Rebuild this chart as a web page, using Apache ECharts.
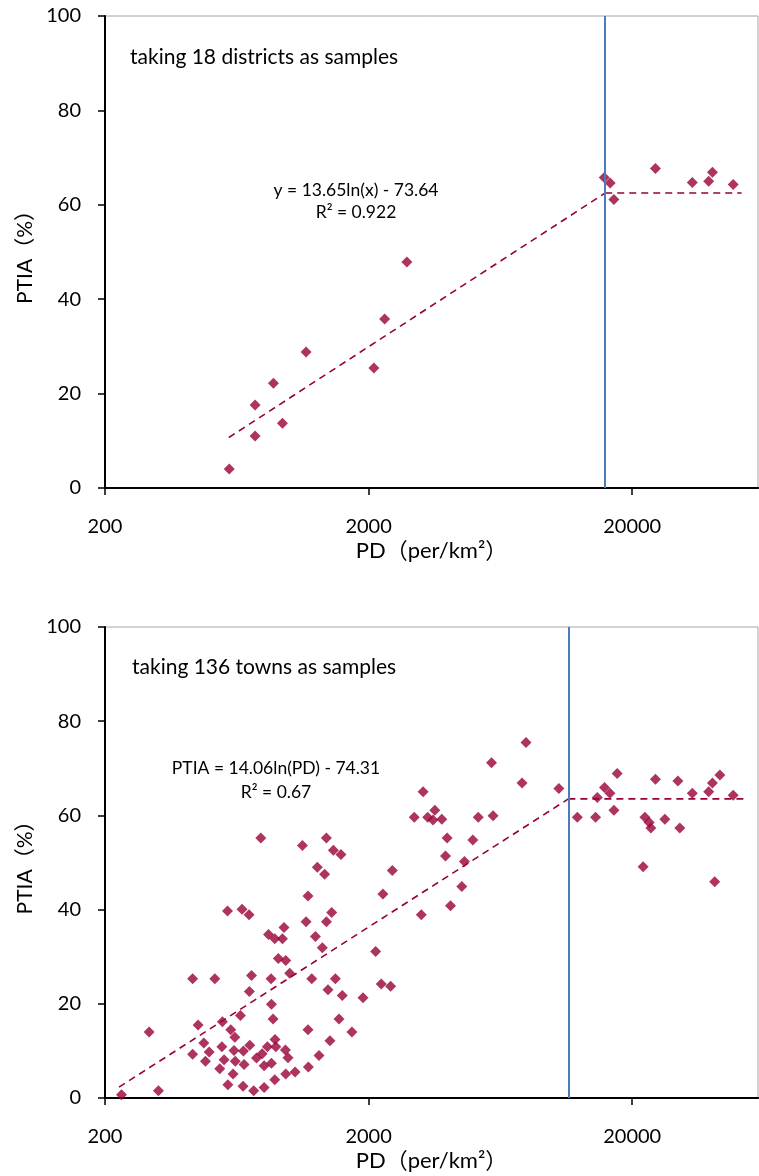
<!DOCTYPE html>
<html><head><meta charset="utf-8">
<script src="https://cdn.jsdelivr.net/npm/echarts@6/dist/echarts.min.js"></script>
<style>html,body{margin:0;padding:0;background:#fff}#c{width:759px;height:1176px}</style>
</head><body><div id="c"></div>
<script>
// ---- tick labels ----
const xTickValues = [200, 2000, 20000];
const yTickValues = [0, 20, 40, 60, 80, 100];

// ---- panel 1: 18 districts ----
const districtPD   = [592, 742, 742, 871, 942, 1158, 2094, 2300, 2794, 15660, 16500, 17040, 24500, 33800, 39000, 40300, 48300];
const districtPTIA = [4.0, 17.6, 11.0, 22.2, 13.7, 28.8, 25.4, 35.8, 47.9, 65.8, 64.6, 61.1, 67.7, 64.7, 65.0, 66.9, 64.3];
const districtTrendPD   = [590, 15800];
const districtTrendPTIA = [10.7, 62.5];
const districtFlatPD    = [15800, 52000];
const districtFlatPTIA  = [62.5, 62.5];
const districtThreshold = 15800;

// ---- panel 2: 136 towns ----
const townPD = [
  780, 1122, 1383, 1470, 1571, 1278, 1362,
  7910, 5850, 7640, 10540, 3220, 2980, 3350, 3565, 3510, 3790, 5210, 5930, 3970, 4970, 3915, 4620, 2460, 4515,
  41100, 22000, 12380, 14520, 14740, 15700, 16460, 17050, 17540, 22340, 23540, 24500, 26600, 29800, 30300,
  33800, 39000, 40300, 43000, 48300, 23200,
  231, 319, 294, 430, 522, 430, 451, 474, 481, 497, 545, 558, 555, 566, 583, 585, 600, 612, 622, 617,
  624, 653, 662, 670, 674, 668, 704, 708, 706, 719, 733, 751, 789, 803, 803, 834, 853, 856, 856, 868,
  881, 881, 883, 889, 826, 909, 942, 955, 970, 967, 989, 970, 1004, 1052, 1158, 1178, 1178, 1182, 1217, 1257,
  1297, 1335, 1384, 1403, 1427, 1449, 1496, 1544, 1589, 1729, 1904, 2126,
  2266, 2233, 2424, 3170, 4090
];
const townPTIA = [
  55.2, 53.6, 55.2, 52.6, 51.7, 49.0, 47.5,
  75.5, 71.2, 66.9, 65.7, 65.0, 59.6, 59.6, 61.1, 59.0, 59.2, 59.6, 59.9, 55.2, 54.8, 51.4, 50.2, 48.3, 44.9,
  45.9, 49.1, 59.6, 59.6, 63.8, 65.9, 64.7, 61.1, 68.9, 59.6, 57.3, 67.7, 59.2, 67.3, 57.3,
  64.7, 65.0, 66.9, 68.6, 64.3, 58.5,
  0.7, 1.55, 14.0, 25.3, 25.3, 9.3, 15.5, 11.7, 7.8, 9.75, 6.2, 16.2, 10.9, 8.1, 39.7, 2.8, 14.5, 5.1, 12.9, 10.1,
  7.8, 17.5, 40.1, 10.0, 7.1, 2.5, 38.9, 11.2, 22.6, 26.0, 1.55, 8.5, 9.4, 6.85, 2.25, 34.7, 25.3, 19.9, 7.4, 16.75,
  33.8, 3.9, 12.4, 10.9, 10.9, 29.6, 33.8, 36.2, 29.2, 10.2, 8.55, 5.1, 26.5, 5.5, 37.4, 42.9, 14.5, 6.6, 25.3, 34.3,
  9.0, 31.9, 37.4, 23.0, 12.15, 39.4, 25.3, 16.75, 21.75, 14.0, 21.3, 31.1,
  43.3, 24.2, 23.7, 38.9, 40.8
];
const townTrendPD   = [226, 11450];
const townTrendPTIA = [2.3, 63.5];
const townFlatPD    = [11450, 53000];
const townFlatPTIA  = [63.5, 63.5];
const townThreshold = 11450;

// ---- texts ----
const panelTexts = ['taking 18 districts as samples', 'taking 136 towns as samples'];
const eqTexts = ['y = 13.65ln(x) - 73.64', 'PTIA = 14.06ln(PD) - 74.31'];
const r2Texts = ['R\u00b2 = 0.922', 'R\u00b2 = 0.67'];
const xName = 'PD\uff08per/km\u00b2\uff09';
const yName = 'PTIA\uff08%\uff09';

const FONT = 'Lato, "Noto Sans CJK SC", sans-serif';
const MARK = '#99003a';
const BLUE = '#4a7ebb';

const zip = (a, b) => a.map((v, i) => [v, b[i]]);

function xAxisFor(g) {
  return {
    type: 'log', logBase: 10, gridIndex: g, min: 200, max: 60000,
    name: xName, nameLocation: 'middle', nameGap: 52,
    nameTextStyle: { fontFamily: FONT, fontSize: 22, color: '#000' },
    axisLine: { show: true, onZero: false, lineStyle: { color: '#000', width: 2 } },
    axisTick: { show: true, inside: false, length: 7, lineStyle: { color: '#000', width: 1.5 }, customValues: xTickValues },
    axisLabel: { show: true, margin: 29, fontFamily: FONT, fontSize: 20, color: '#000', customValues: xTickValues,
                 formatter: v => String(Math.round(v)) },
    minorTick: { show: false }, splitLine: { show: false }, minorSplitLine: { show: false }
  };
}
function topBorderAxis(g) {
  return {
    type: 'value', gridIndex: g, position: 'top', min: 0, max: 1,
    axisLine: { show: true, lineStyle: { color: '#000', width: 1.5 } },
    axisTick: { show: false }, axisLabel: { show: false }, splitLine: { show: false }
  };
}
function yAxisFor(g) {
  return {
    type: 'value', gridIndex: g, min: yTickValues[0], max: yTickValues[yTickValues.length - 1], interval: 20,
    name: yName, nameLocation: 'middle', nameGap: 68, nameRotate: 90,
    nameTextStyle: { fontFamily: FONT, fontSize: 21, color: '#000' },
    axisLine: { show: true, lineStyle: { color: '#000', width: 2 } },
    axisTick: { show: true, inside: false, length: 7, lineStyle: { color: '#000', width: 1.5 } },
    axisLabel: { margin: 24, align: 'right', fontFamily: FONT, fontSize: 20, color: '#000' },
    splitLine: { show: false }
  };
}
function seriesFor(g, pd, ptia, tPD, tPTIA, fPD, fPTIA, thr) {
  const dash = { color: MARK, width: 1.6, type: [7, 5] };
  return [
    { type: 'line', xAxisIndex: g, yAxisIndex: g, data: zip(tPD, tPTIA), showSymbol: false, symbol: 'none',
      lineStyle: dash, z: 3,
      markLine: { silent: true, symbol: ['none', 'none'], label: { show: false },
                  lineStyle: { color: BLUE, width: 2, type: 'solid' }, data: [{ xAxis: thr }] } },
    { type: 'line', xAxisIndex: g, yAxisIndex: g, data: zip(fPD, fPTIA), showSymbol: false, symbol: 'none',
      lineStyle: dash, z: 3 },
    { type: 'scatter', xAxisIndex: g, yAxisIndex: g, data: zip(pd, ptia), symbol: 'diamond', symbolSize: 11,
      itemStyle: { color: MARK }, z: 4 }
  ];
}

const chart = echarts.init(document.getElementById('c'), null, { renderer: 'canvas' });
chart.setOption({
  animation: false,
  backgroundColor: '#fff',
  grid: [
    { left: 105, top: 16, width: 653, height: 472, show: true, borderColor: '#a6a6a6', borderWidth: 1, backgroundColor: 'transparent' },
    { left: 105, top: 627, width: 653, height: 471, show: true, borderColor: '#a6a6a6', borderWidth: 1, backgroundColor: 'transparent' }
  ],
  xAxis: [xAxisFor(0), xAxisFor(1), topBorderAxis(0), topBorderAxis(1)],
  yAxis: [yAxisFor(0), yAxisFor(1)],
  series: [
    ...seriesFor(0, districtPD, districtPTIA, districtTrendPD, districtTrendPTIA, districtFlatPD, districtFlatPTIA, districtThreshold),
    ...seriesFor(1, townPD, townPTIA, townTrendPD, townTrendPTIA, townFlatPD, townFlatPTIA, townThreshold)
  ],
  graphic: [
    { type: 'text', x: 130, y: 57, style: { text: panelTexts[0], font: '21px ' + FONT, fill: '#000', verticalAlign: 'middle' } },
    { type: 'text', x: 356, y: 190, style: { text: eqTexts[0], font: '17.5px ' + FONT, fill: '#000', align: 'center', verticalAlign: 'middle' } },
    { type: 'text', x: 356, y: 212, style: { text: r2Texts[0], font: '17.5px ' + FONT, fill: '#000', align: 'center', verticalAlign: 'middle' } },
    { type: 'text', x: 132, y: 667, style: { text: panelTexts[1], font: '21px ' + FONT, fill: '#000', verticalAlign: 'middle' } },
    { type: 'text', x: 276, y: 768, style: { text: eqTexts[1], font: '17.5px ' + FONT, fill: '#000', align: 'center', verticalAlign: 'middle' } },
    { type: 'text', x: 276, y: 792, style: { text: r2Texts[1], font: '17.5px ' + FONT, fill: '#000', align: 'center', verticalAlign: 'middle' } }
  ]
});
</script>
</body></html>
